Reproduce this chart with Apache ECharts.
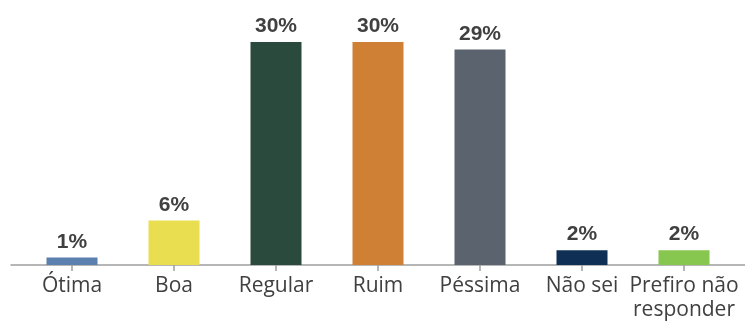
<!DOCTYPE html>
<html>
<head>
<meta charset="utf-8">
<script src="https://cdn.jsdelivr.net/npm/echarts@6/dist/echarts.min.js"></script>
<style>
  html, body { margin: 0; padding: 0; background: #fff; }
  #chart { width: 745px; height: 325px; }
</style>
</head>
<body>
<div id="chart"></div>
<script>
// Avaliação: categorias, percentuais e cores
const categories = ['Ótima', 'Boa', 'Regular', 'Ruim', 'Péssima', 'Não sei', 'Prefiro não\nresponder'];
const values = [1, 6, 30, 30, 29, 2, 2];
const colors = ['#5b80b0', '#e9dd50', '#2a4a3d', '#d08034', '#5b636f', '#0f3054', '#88c74f'];

const chart = echarts.init(document.getElementById('chart'));

chart.setOption({
  animation: false,
  grid: [
    { left: 21, right: 10, top: 42, bottom: 60 },
    { left: 11, right: 0, top: 42, bottom: 60 }
  ],
  xAxis: [
    {
      type: 'category',
      gridIndex: 0,
      data: categories,
      axisLine: { show: false },
      axisTick: { show: true, alignWithLabel: true, length: 6, lineStyle: { color: '#9e9e9e', width: 1.5 } },
      axisLabel: {
        interval: 0,
        margin: 9,
        color: '#404040',
        fontSize: 21,
        fontFamily: 'Open Sans',
        lineHeight: 24
      }
    },
    {
      type: 'category',
      gridIndex: 1,
      data: [''],
      axisLine: { show: true, lineStyle: { color: '#9e9e9e', width: 1.5 } },
      axisTick: { show: false },
      axisLabel: { show: false }
    }
  ],
  yAxis: [
    { type: 'value', gridIndex: 0, min: 0, max: 30, show: false },
    { type: 'value', gridIndex: 1, min: 0, max: 30, show: false }
  ],
  series: [{
    type: 'bar',
    xAxisIndex: 0,
    yAxisIndex: 0,
    barWidth: 51,
    data: values.map((v, i) => ({ value: v, itemStyle: { color: colors[i] } })),
    label: {
      show: true,
      position: 'top',
      distance: 5,
      formatter: '{c}%',
      color: '#404040',
      fontSize: 21,
      fontWeight: 'bold',
      fontFamily: 'Liberation Sans'
    }
  }]
});
</script>
</body>
</html>
